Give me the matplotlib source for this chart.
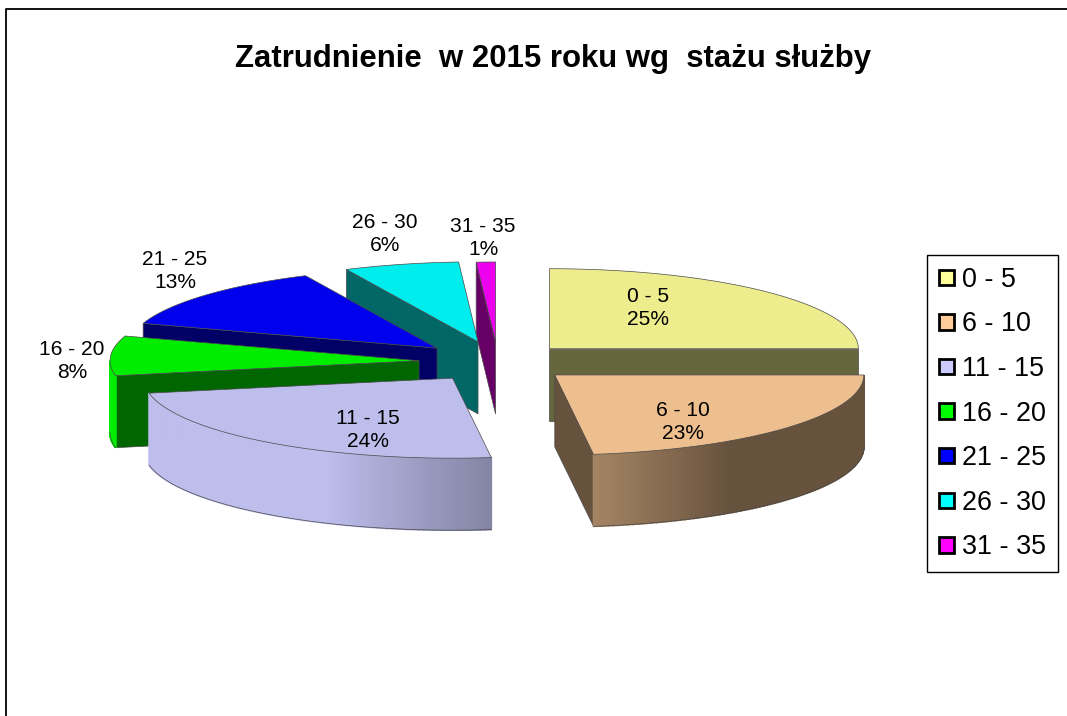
import numpy as np
import matplotlib
matplotlib.use('Agg')
import matplotlib.pyplot as plt
from matplotlib.patches import Patch

plt.rcParams['font.family'] = ['Liberation Sans', 'DejaVu Sans']

title = 'Zatrudnienie  w 2015 roku wg  stażu służby'
categories = ['0 - 5', '6 - 10', '11 - 15', '16 - 20', '21 - 25', '26 - 30', '31 - 35']
shares = [25, 23, 24, 8, 13, 6, 1]
colors = ['#FFFF99', '#FFCC99', '#CCCCFF', '#00FF00', '#0000FF', '#00FFFF', '#FF00FF']

# pie layout, in pixels of the picture
explode = [0.235, 0.245, 0.25, 0.256, 0.263, 0.26, 0.25]
cx, cy = 498, 362
rx, ry = 309, 80
depth = 72
draw_order = [6, 5, 4, 3, 0, 2, 1]
label_xy = [(648, 308), (683, 422), (368, 430), (72, 361), (175, 271), (385, 234), (483, 238)]


def shade(col, k):
    return tuple(c * k for c in matplotlib.colors.to_rgb(col))


def wall_light(t):
    return np.clip(0.43 + 0.0097 * (t - 145.5), 0.43, 1.0)


fig = plt.figure(figsize=(10.67, 7.16), dpi=100)
ax = fig.add_axes([0, 0, 1, 1])
ax.set_xlim(0, 1067)
ax.set_ylim(716, 0)
ax.axis('off')

ax.plot([6, 6, 1067], [716, 9, 9], color='black', lw=1.3)
ax.text(553, 59, title, ha='center', va='center', fontsize=22.4, fontweight='bold')

ends = np.cumsum(shares) / sum(shares) * 360
starts = ends - np.array(shares) / sum(shares) * 360
edge = '#4a4a4a'

for i in draw_order:
    t0, t1 = starts[i], ends[i]
    mid = np.radians((t0 + t1) / 2)
    ax0 = cx + explode[i] * rx * np.sin(mid)
    ay0 = cy - explode[i] * ry * np.cos(mid)
    top = shade(colors[i], 0.93)
    dark = shade(colors[i], 0.40)

    # radial faces that look towards the viewer
    for t, show in ((t0, np.sin(np.radians(t0)) < -1e-6), (t1, np.sin(np.radians(t1)) > 1e-6)):
        if show:
            ex = ax0 + rx * np.sin(np.radians(t))
            ey = ay0 - ry * np.cos(np.radians(t))
            ax.fill([ax0, ex, ex, ax0], [ay0, ey, ey + depth, ay0 + depth],
                    facecolor=dark, edgecolor=edge, lw=0.5)

    # curved outer wall, cut in narrow strips for the shading
    lo, hi = max(t0, 90), min(t1, 270)
    if hi > lo:
        ts = np.linspace(lo, hi, 90)
        xs = ax0 + rx * np.sin(np.radians(ts))
        ys = ay0 - ry * np.cos(np.radians(ts))
        for j in range(len(ts) - 1):
            c = shade(colors[i], 0.93 * wall_light((ts[j] + ts[j + 1]) / 2))
            ax.fill([xs[j], xs[j + 1], xs[j + 1], xs[j]],
                    [ys[j], ys[j + 1], ys[j + 1] + depth, ys[j] + depth],
                    facecolor=c, edgecolor=c, lw=1.2)
        ax.plot(xs, ys + depth, color=edge, lw=0.5)

    # top face
    ts = np.linspace(t0, t1, 90)
    xs = ax0 + rx * np.sin(np.radians(ts))
    ys = ay0 - ry * np.cos(np.radians(ts))
    ax.fill(np.r_[ax0, xs], np.r_[ay0, ys], facecolor=top, edgecolor=edge, lw=0.5)

for name, v, (lx, ly) in zip(categories, shares, label_xy):
    ax.text(lx, ly, f'{name}\n{v}%', ha='center', va='center', fontsize=15.1, linespacing=1.29)

handles = [Patch(facecolor=c, edgecolor='black', lw=2, label=n) for c, n in zip(colors, categories)]
leg = ax.legend(handles=handles, loc='upper left', bbox_to_anchor=(927, 255),
                bbox_transform=ax.transData, borderaxespad=0, fontsize=19.4,
                handlelength=0.57, handleheight=0.5, handletextpad=0.3,
                labelspacing=0.69, borderpad=0.44, fancybox=False,
                framealpha=1, edgecolor='black')
leg.get_frame().set_linewidth(1.0)

plt.savefig('out.png', dpi=100)
